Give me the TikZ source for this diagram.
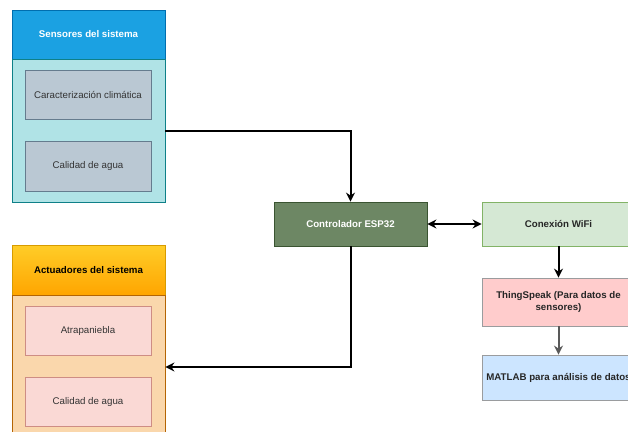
\documentclass[tikz,border=0pt]{standalone}
\usepackage{fontspec}
\setmainfont{Liberation Sans}
\usetikzlibrary{arrows.meta,positioning,shadings}
\definecolor{hdrblue}{HTML}{1BA1E2}
\definecolor{hdrblueb}{HTML}{006EAF}
\definecolor{cyanbody}{HTML}{B0E3E6}
\definecolor{cyanbord}{HTML}{0E8088}
\definecolor{grayfill}{HTML}{BAC8D3}
\definecolor{graybord}{HTML}{23445D}
\definecolor{orgtop}{HTML}{FFCD28}
\definecolor{orgbot}{HTML}{FFA500}
\definecolor{orgbord}{HTML}{D79B00}
\definecolor{orgbody}{HTML}{FAD7AC}
\definecolor{orgbodyb}{HTML}{B46504}
\definecolor{pinkfill}{HTML}{FAD9D5}
\definecolor{pinkbord}{HTML}{AE4132}
\definecolor{espfill}{HTML}{6D8764}
\definecolor{espbord}{HTML}{3A5431}
\definecolor{wififill}{HTML}{D5E8D4}
\definecolor{wifibord}{HTML}{82B366}
\definecolor{tsfill}{HTML}{FFCCCC}
\definecolor{mlfill}{HTML}{CCE5FF}
\definecolor{darkbord}{HTML}{36393D}
\tikzset{
  box/.style={draw, line width=0.8pt, inner sep=2pt, font=\fontsize{9.7}{12}\selectfont, align=center},
  hdr/.style={box, font=\fontsize{9.7}{12}\selectfont\bfseries},
  arr/.style={draw, line width=2pt, -{Stealth[length=9pt,width=9pt]}},
  darr/.style={draw, line width=2pt, {Stealth[length=9pt,width=9pt]}-{Stealth[length=9pt,width=9pt]}}
}
\begin{document}
\begin{tikzpicture}[x=1pt,y=-1pt]
\useasboundingbox (0,0) rectangle (628,431);
\clip (0,0) rectangle (628,431);
\fill[white] (0,0) rectangle (628,431);
% Sensors
\node[hdr, fill=hdrblue, draw=hdrblueb, text=white, minimum width=153pt, minimum height=49pt] (shdr) at (88.5,34.5) {Sensores del sistema};
\node[box, fill=cyanbody, draw=cyanbord, minimum width=153pt, minimum height=143pt] (sbody) at (88.5,130.5) {};
\node[box, fill=grayfill, draw=graybord!70, minimum width=126pt, minimum height=49pt, text=black!80] (s1) at (88,94.5) {Caracterización climática};
\node[box, fill=grayfill, draw=graybord!70, minimum width=126pt, minimum height=50pt, text=black!80] (s2) at (88,166) {Calidad de agua};
% Actuators
\node[hdr, top color=orgtop, bottom color=orgbot, draw=orgbord, minimum width=153pt, minimum height=50pt] (ahdr) at (88.5,270) {Actuadores del sistema};
\node[box, fill=orgbody, draw=orgbodyb, minimum width=153pt, minimum height=144pt] (abody) at (88.5,367) {};
\node[box, fill=pinkfill, draw=pinkbord!60, minimum width=126pt, minimum height=49pt, text=black!80] (a1) at (88,330.5) {Atrapaniebla};
\node[box, fill=pinkfill, draw=pinkbord!60, minimum width=126pt, minimum height=49pt, text=black!80] (a2) at (88,401.5) {Calidad de agua};
% Controller and cloud
\node[hdr, fill=espfill, draw=espbord, text=white, minimum width=153pt, minimum height=44pt] (esp) at (350.5,224) {Controlador ESP32};
\node[hdr, fill=wififill, draw=wifibord, text=black!85, minimum width=153pt, minimum height=44pt] (wifi) at (558.5,224) {Conexión WiFi};
\node[hdr, fill=tsfill, draw=darkbord!50, text=black!85, minimum width=153pt, minimum height=48pt] (ts) at (558.5,302) {ThingSpeak (Para datos de\\sensores)};
\node[hdr, fill=mlfill, draw=darkbord!50, text=black!85, minimum width=153pt, minimum height=45pt] (ml) at (558.5,377.5) {MATLAB para análisis de datos};
% Connectors
\draw[arr] (sbody.east) -| (esp.north);
\draw[arr] (esp.south) |- (abody.east);
\draw[darr] (esp.east) -- (wifi.west);
\draw[arr] (wifi.south) -- (ts.north);
\draw[arr, draw=black!65] (ts.south) -- (ml.north);
\end{tikzpicture}
\end{document}
